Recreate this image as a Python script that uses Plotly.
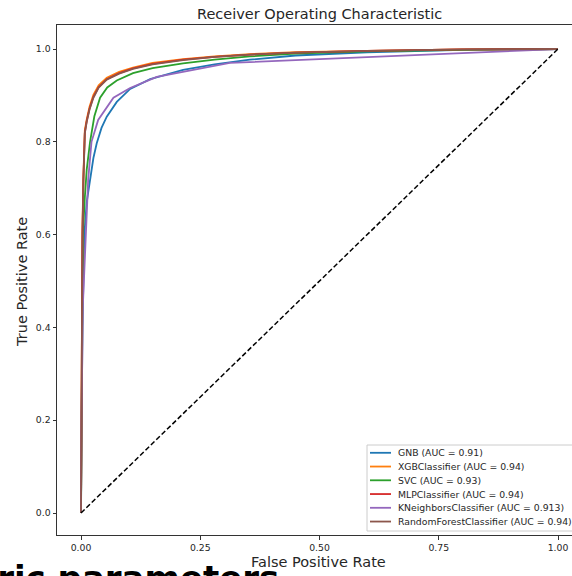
import plotly.graph_objects as go

# ROC curve points per classifier (false positive rate, true positive rate)
gnb_fpr = [0, 0.001, 0.003, 0.005, 0.007, 0.012, 0.019, 0.026, 0.033, 0.043, 0.054, 0.075,
           0.103, 0.145, 0.214, 0.28, 0.354, 0.45, 0.6, 0.8, 1]
gnb_tpr = [0, 0.2, 0.4, 0.5, 0.6, 0.67, 0.718, 0.765, 0.797, 0.83, 0.854, 0.886,
           0.914, 0.935, 0.955, 0.967, 0.977, 0.986, 0.993, 0.998, 1]

xgb_fpr = [0, 0.001, 0.002, 0.003, 0.005, 0.008, 0.012, 0.018, 0.026, 0.037, 0.054, 0.08,
           0.109, 0.15, 0.214, 0.28, 0.354, 0.45, 0.6, 0.8, 1]
xgb_tpr = [0, 0.26, 0.46, 0.61, 0.725, 0.825, 0.848, 0.876, 0.901, 0.922, 0.938, 0.951,
           0.96, 0.97, 0.978, 0.984, 0.989, 0.993, 0.996, 0.999, 1]

svc_fpr = [0, 0.001, 0.002, 0.004, 0.008, 0.012, 0.019, 0.028, 0.04, 0.055, 0.075, 0.109,
           0.15, 0.214, 0.28, 0.354, 0.45, 0.6, 0.8, 1]
svc_tpr = [0, 0.2, 0.4, 0.6, 0.68, 0.74, 0.8, 0.855, 0.895, 0.917, 0.932, 0.948,
           0.959, 0.969, 0.977, 0.984, 0.99, 0.995, 0.998, 1]

mlp_fpr = [0, 0.001, 0.002, 0.003, 0.005, 0.008, 0.012, 0.018, 0.026, 0.037, 0.054, 0.08,
           0.109, 0.15, 0.214, 0.28, 0.354, 0.45, 0.6, 0.8, 1]
mlp_tpr = [0, 0.25, 0.45, 0.6, 0.72, 0.82, 0.845, 0.872, 0.897, 0.918, 0.935, 0.948,
           0.958, 0.968, 0.977, 0.983, 0.988, 0.992, 0.996, 0.999, 1]

knn_fpr = [0, 0.001, 0.004, 0.01, 0.015, 0.022, 0.036, 0.068, 0.103, 0.159, 0.312, 1]
knn_tpr = [0, 0.2, 0.45, 0.6, 0.718, 0.8, 0.847, 0.895, 0.916, 0.94, 0.97, 1]

rf_fpr = [0, 0.001, 0.002, 0.003, 0.005, 0.008, 0.012, 0.018, 0.026, 0.037, 0.054, 0.08,
          0.109, 0.15, 0.214, 0.28, 0.354, 0.45, 0.6, 0.8, 1]
rf_tpr = [0, 0.24, 0.44, 0.59, 0.715, 0.818, 0.843, 0.87, 0.895, 0.917, 0.934, 0.947,
          0.957, 0.967, 0.976, 0.983, 0.988, 0.992, 0.996, 0.999, 1]

model_names = ["GNB", "XGBClassifier", "SVC", "MLPClassifier",
               "KNeighborsClassifier", "RandomForestClassifier"]
auc_labels = ["0.91", "0.94", "0.93", "0.94", "0.913", "0.94"]
colors = ["#1f77b4", "#ff7f0e", "#2ca02c", "#d62728", "#9467bd", "#8c564b"]
curves = [(gnb_fpr, gnb_tpr), (xgb_fpr, xgb_tpr), (svc_fpr, svc_tpr),
          (mlp_fpr, mlp_tpr), (knn_fpr, knn_tpr), (rf_fpr, rf_tpr)]

chance_x = [0, 1]
chance_y = [0, 1]

x_ticks = [0, 0.25, 0.5, 0.75, 1.0]
y_ticks = [0, 0.2, 0.4, 0.6, 0.8, 1.0]

# Figure geometry (pixels)
W, H = 572, 576
L, R, T, B = 57, 572, 25, 535
PW, PH = R - L, B - T


def px(x):
    return (x - L) / PW


def py(y):
    return (B - y) / PH


FONT = "DejaVu Sans"
TXT = "#262626"

fig = go.Figure()
labels = [f"{n} (AUC = {a})" for n, a in zip(model_names, auc_labels)]
for (fx, ty), lab, col in zip(curves, labels, colors):
    fig.add_trace(go.Scatter(x=fx, y=ty, mode="lines", name=lab,
                             line=dict(color=col, width=1.8), showlegend=False))

fig.add_trace(go.Scatter(x=chance_x, y=chance_y, mode="lines", showlegend=False,
                         line=dict(color="black", width=1.5, dash="5px,2.5px")))

shapes = []
annotations = []

# Legend box drawn by hand to get matplotlib-like compact rows
leg_left, leg_top, leg_bottom = 367, 445, 531
shapes.append(dict(type="rect", xref="paper", yref="paper",
                   x0=px(leg_left), x1=px(600), y0=py(leg_bottom), y1=py(leg_top),
                   line=dict(color="#cccccc", width=1),
                   fillcolor="rgba(255,255,255,0.85)", layer="above"))
row0, step = 452.8, 13.75
for i, (lab, col) in enumerate(zip(labels, colors)):
    yy = row0 + i * step
    shapes.append(dict(type="line", xref="paper", yref="paper",
                       x0=px(370), x1=px(391), y0=py(yy), y1=py(yy),
                       line=dict(color=col, width=1.8), layer="above"))
    annotations.append(dict(text=lab, xref="paper", yref="paper",
                            x=px(396), y=py(yy), xanchor="left", yanchor="middle",
                            showarrow=False, font=dict(family=FONT, size=9.3, color=TXT)))

# Titles
annotations.append(dict(text="Receiver Operating Characteristic", xref="paper", yref="paper",
                        x=px(319), y=py(14), xanchor="center", yanchor="middle",
                        showarrow=False, font=dict(family=FONT, size=14.5, color=TXT)))
annotations.append(dict(text="False Positive Rate", xref="paper", yref="paper",
                        x=px(318), y=py(562), xanchor="center", yanchor="middle",
                        showarrow=False, font=dict(family=FONT, size=14.5, color=TXT)))
annotations.append(dict(text="True Positive Rate", xref="paper", yref="paper",
                        x=px(22), y=py(282), xanchor="center", yanchor="middle",
                        textangle=-90, showarrow=False,
                        font=dict(family=FONT, size=14.5, color=TXT)))
# Notebook heading below the chart (only its upper part falls inside the page)
annotations.append(dict(text="<b>Metric parameters</b>", xref="paper", yref="paper",
                        x=px(281), y=py(556), xanchor="right", yanchor="top",
                        showarrow=False,
                        font=dict(family="DejaVu Sans", size=34, color="black")))

fig.update_layout(
    width=W, height=H,
    margin=dict(l=L, r=W - R, t=T, b=H - B, pad=0),
    paper_bgcolor="white", plot_bgcolor="white",
    shapes=shapes, annotations=annotations,
    font=dict(family=FONT, color=TXT),
)
fig.update_xaxes(range=[(L - 81) / 477, (R - 81) / 477], tickvals=x_ticks,
                 ticktext=[f"{v:.2f}" for v in x_ticks],
                 showgrid=False, zeroline=False, showline=True, mirror=True,
                 linecolor="#333333", linewidth=1, ticks="outside", ticklen=3.5,
                 tickcolor="#333333", tickfont=dict(family=FONT, size=9.3, color=TXT))
fig.update_yaxes(range=[(513 - B) / 464, (513 - T) / 464], tickvals=y_ticks,
                 ticktext=[f"{v:.1f}" for v in y_ticks],
                 showgrid=False, zeroline=False, showline=True, mirror=False,
                 linecolor="#333333", linewidth=1, ticks="outside", ticklen=3.5,
                 tickcolor="#333333", tickfont=dict(family=FONT, size=9.3, color=TXT))

fig.write_html("out.html")
